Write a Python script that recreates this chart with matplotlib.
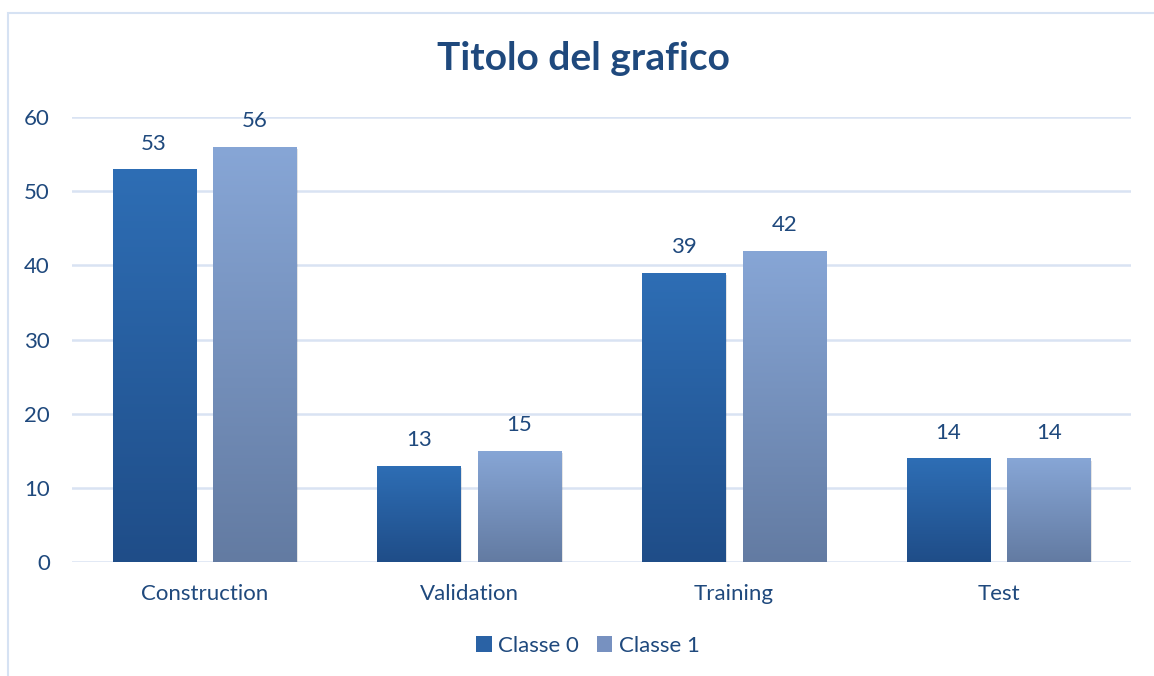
import matplotlib
matplotlib.use("Agg")
import matplotlib.pyplot as plt
import numpy as np
from matplotlib.colors import LinearSegmentedColormap
from matplotlib.patches import Rectangle

categories = ["Construction", "Validation", "Training", "Test"]
series_names = ["Classe 0", "Classe 1"]
classe0 = [53, 13, 39, 14]
classe1 = [56, 15, 42, 14]
yticks = [0, 10, 20, 30, 40, 50, 60]

plt.rcParams['font.family'] = ['Lato', 'DejaVu Sans']
TXT = "#1F497D"
grad = [("#2E6EB5", "#1F4D88"), ("#87A6D6", "#637BA2")]

fig = plt.figure(figsize=(11.54, 6.76), dpi=100)
# chart border
fig.patches.append(Rectangle((8/1154, -0.01), 1.2, 1 - 13/676 + 0.01, transform=fig.transFigure,
                             fill=False, edgecolor="#D6E2F3", linewidth=1.5, zorder=0))
ax = fig.add_axes([72/1154, 1 - 562/676, (1131-72)/1154, (562-117)/676])

x = np.arange(len(categories))
width = 0.314
offset = 0.19
ax.set_xlim(-0.5, len(categories) - 0.5)
ax.set_ylim(0, 60)

for si, vals in enumerate([classe0, classe1]):
    top, bot = grad[si]
    cmap = LinearSegmentedColormap.from_list("g%d" % si, [bot, top])
    xs = x + (offset if si else -offset)
    bars = ax.bar(xs, vals, width=width, color=bot, zorder=2, label=series_names[si], linewidth=0)
    for b, v in zip(bars, vals):
        sh = Rectangle((b.get_x() + 0.006, -0.35), b.get_width(), v, facecolor="#000000",
                       alpha=0.10, linewidth=0, zorder=1.5)
        ax.add_patch(sh)
        b.set_facecolor("none")
        img = ax.imshow(np.linspace(0, 1, 256).reshape(-1, 1), cmap=cmap, vmin=0, vmax=1,
                        origin="lower", aspect="auto",
                        extent=(b.get_x(), b.get_x() + b.get_width(), 0, v), zorder=2)
        img.set_clip_path(b)
        ax.annotate(str(v), (b.get_x() + b.get_width() / 2, v), xytext=(0, 11),
                    textcoords="offset points", ha="center", va="bottom",
                    fontsize=16, color=TXT)

ax.set_xlim(-0.5, len(categories) - 0.5)
ax.set_ylim(0, 60)
ax.set_yticks(yticks)
ax.set_yticklabels([str(t) for t in yticks])
ax.set_xticks(x)
ax.set_xticklabels(categories)
ax.tick_params(axis="y", length=0, pad=16, labelsize=16, labelcolor=TXT)
ax.tick_params(axis="x", length=0, pad=16, labelsize=16, labelcolor=TXT)
ax.grid(axis="y", color="#D9E3F3", linewidth=1.8, zorder=0)
ax.set_axisbelow(True)
for s in ax.spines.values():
    s.set_visible(False)

fig.text(583/1154, 1 - 58/676, "Titolo del grafico", ha="center", va="center",
         fontsize=28, fontweight="bold", color=TXT)

handles = [Rectangle((0, 0), 1, 1, facecolor=c, edgecolor="none") for c in ["#2A62A5", "#7791C0"]]
leg = fig.legend(handles, series_names, loc="center", bbox_to_anchor=(588/1154, 1 - 646/676),
                 ncol=2, frameon=False, fontsize=16, labelcolor=TXT,
                 handlelength=0.7, handleheight=0.7, handletextpad=0.3, columnspacing=0.8)

fig.savefig("out.png", dpi=100)
